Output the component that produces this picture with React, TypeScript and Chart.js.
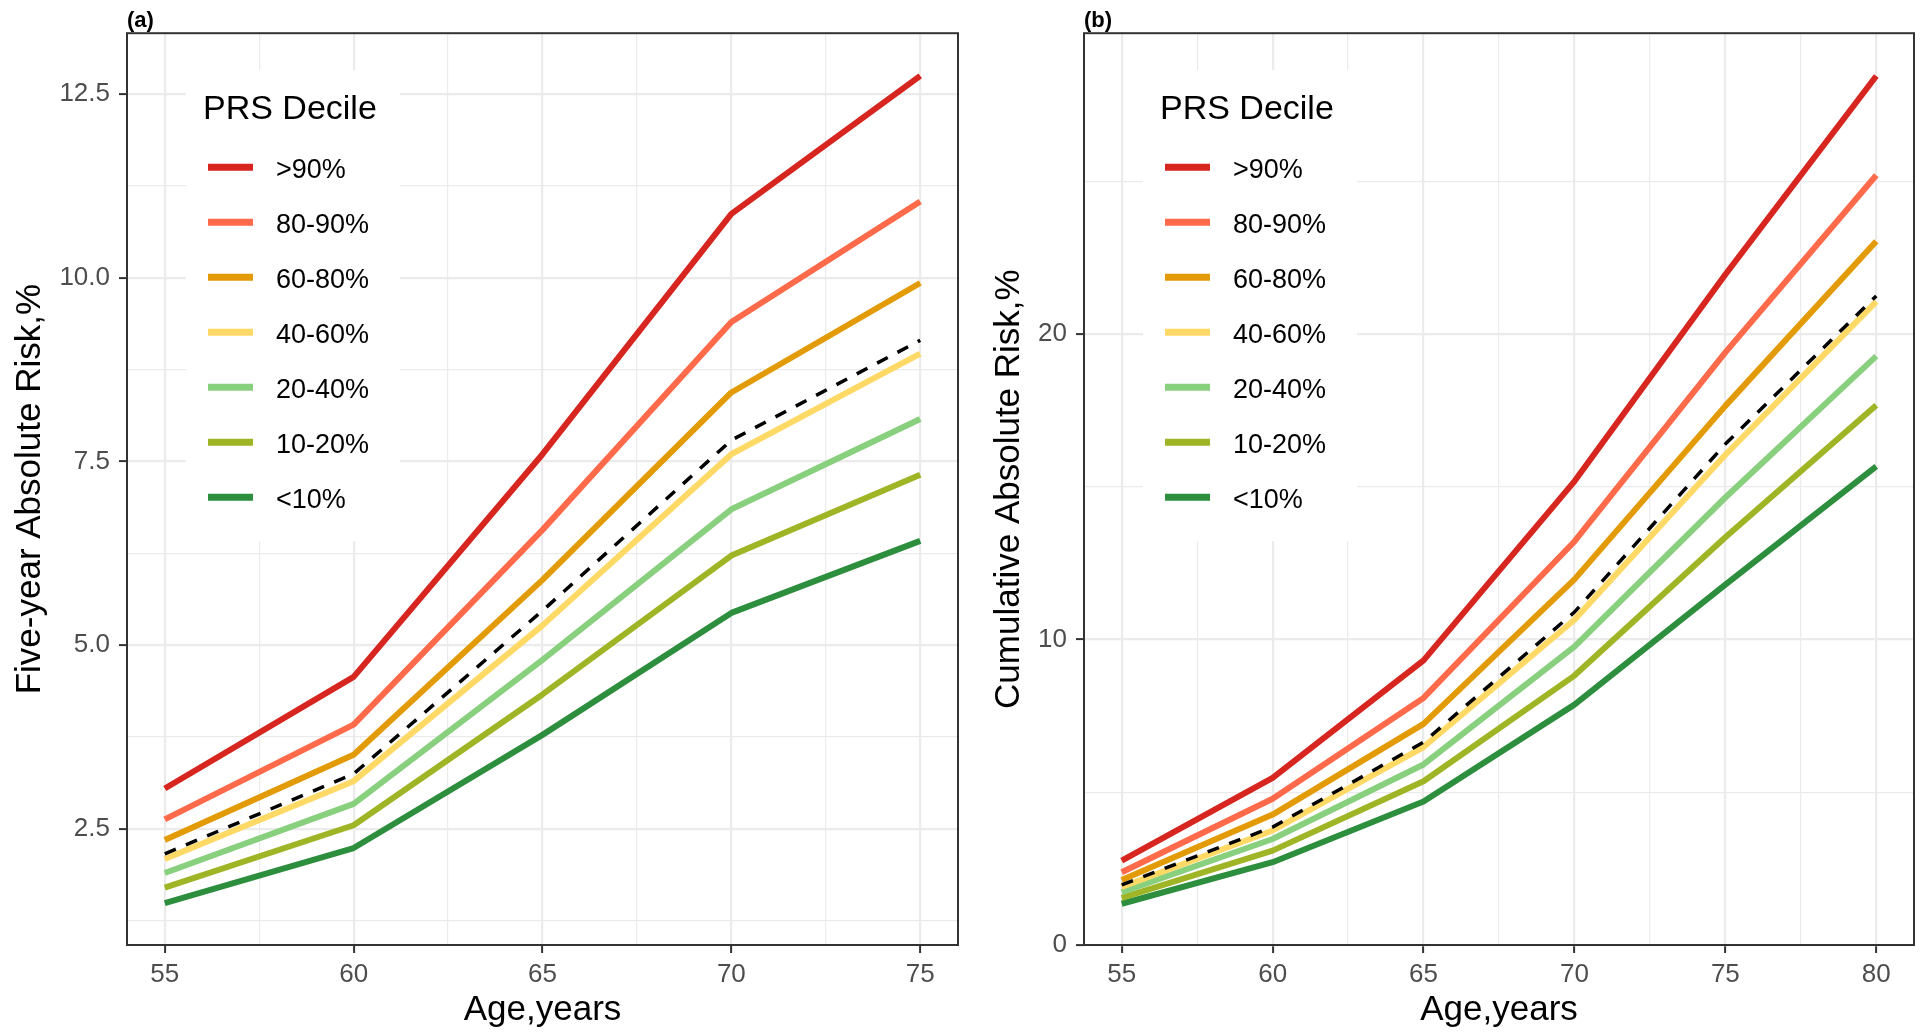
import { useEffect, useRef } from 'react';
import { Chart, registerables } from 'chart.js';

Chart.register(...registerables);

const FONT = '"Liberation Sans", Arial, Helvetica, sans-serif';
Chart.defaults.font.family = FONT;

// ---------- data ----------
const ageFiveYear = [55, 60, 65, 70, 75];
const ageCumulative = [55, 60, 65, 70, 75, 80];

const decileLabels = ['>90%', '80-90%', '60-80%', '40-60%', '20-40%', '10-20%', '<10%'];
const overallLabel = 'Overall';
const legendTitle = 'PRS Decile';

// Panel (a): five-year absolute risk, %
const fiveYearGt90 = [3.05, 4.57, 7.6, 10.87, 12.75];
const fiveYear80to90 = [2.63, 3.92, 6.57, 9.4, 11.04];
const fiveYear60to80 = [2.35, 3.51, 5.89, 8.44, 9.93];
const fiveYear40to60 = [2.09, 3.15, 5.27, 7.6, 8.97];
const fiveYear20to40 = [1.9, 2.84, 4.8, 6.85, 8.08];
const fiveYear10to20 = [1.7, 2.55, 4.33, 6.22, 7.32];
const fiveYearLt10 = [1.49, 2.24, 3.78, 5.44, 6.42];
const fiveYearOverall = [2.16, 3.25, 5.47, 7.79, 9.15];

// Panel (b): cumulative absolute risk, %
const cumGt90 = [2.76, 5.47, 9.32, 15.18, 21.95, 28.45];
const cum80to90 = [2.38, 4.79, 8.09, 13.21, 19.4, 25.2];
const cum60to80 = [2.13, 4.27, 7.24, 11.97, 17.65, 23.04];
const cum40to60 = [1.9, 3.75, 6.48, 10.65, 16.05, 21.06];
const cum20to40 = [1.73, 3.47, 5.91, 9.77, 14.65, 19.28];
const cum10to20 = [1.54, 3.09, 5.36, 8.82, 13.35, 17.67];
const cumLt10 = [1.35, 2.71, 4.7, 7.87, 11.8, 15.67];
const cumOverall = [1.97, 3.86, 6.64, 10.9, 16.4, 21.25];

// tick labels
const xMajorA = [55, 60, 65, 70, 75];
const yMajorA = [2.5, 5.0, 7.5, 10.0, 12.5];
const xMajorB = [55, 60, 65, 70, 75, 80];
const yMajorB = [0, 10, 20];

// ---------- styles ----------
const decileColors = ['#D7261F', '#FF6A4B', '#E39B05', '#FFD966', '#88CF7E', '#9FB526', '#2D8E3D'];
const GRID = '#EBEBEB';
const AXIS_DARK = '#333333';
const TICK_TEXT = '#4D4D4D';

function withMinor(major: number[], min: number, max: number) {
  const step = major[1] - major[0];
  const out: { value: number; isMajor: boolean }[] = [];
  const first = major[0] - step / 2;
  if (first >= min) out.push({ value: first, isMajor: false });
  major.forEach((v, i) => {
    out.push({ value: v, isMajor: true });
    const mid = v + step / 2;
    if (i < major.length - 1 || mid <= max) out.push({ value: mid, isMajor: false });
  });
  return out.filter((t) => t.value >= min && t.value <= max);
}

const legendPlugin = {
  id: 'prsLegend',
  beforeDatasetsDraw(chart: any) {
    const { ctx, chartArea } = chart;
    const L = chartArea.left;
    const T = chartArea.top;
    ctx.save();
    ctx.fillStyle = '#ffffff';
    ctx.fillRect(L + 59, T + 37, 214, 471);
    ctx.fillStyle = '#000000';
    ctx.textAlign = 'left';
    ctx.textBaseline = 'alphabetic';
    ctx.font = `34px ${FONT}`;
    ctx.fillText(legendTitle, L + 76, T + 86);
    const items = chart.data.datasets.filter((d: any) => decileLabels.includes(d.label));
    items.sort((a: any, b: any) => decileLabels.indexOf(a.label) - decileLabels.indexOf(b.label));
    items.forEach((d: any, i: number) => {
      const y = T + 134 + 55 * i;
      ctx.strokeStyle = d.borderColor;
      ctx.lineWidth = 7;
      ctx.lineCap = 'butt';
      ctx.beginPath();
      ctx.moveTo(L + 81, y);
      ctx.lineTo(L + 126, y);
      ctx.stroke();
      ctx.fillStyle = '#000000';
      ctx.font = `27px ${FONT}`;
      ctx.fillText(d.label, L + 149, y + 11);
    });
    ctx.restore();
  },
};

const borderPlugin = {
  id: 'panelBorder',
  afterDraw(chart: any) {
    const { ctx, chartArea } = chart;
    ctx.save();
    ctx.strokeStyle = AXIS_DARK;
    ctx.lineWidth = 2;
    ctx.strokeRect(chartArea.left, chartArea.top, chartArea.right - chartArea.left, chartArea.bottom - chartArea.top);
    ctx.restore();
  },
};

type PanelSpec = {
  label: string;
  ages: number[];
  series: number[][];
  overall: number[];
  xRange: [number, number];
  yRange: [number, number];
  xMajor: number[];
  yMajor: number[];
  yFormat: (v: number) => string;
  yTitle: string;
  yAxisWidth: number;
  yTitlePad: number;
  rightPad: number;
};

function makeConfig(p: PanelSpec): any {
  const xTicks = withMinor(p.xMajor, p.xRange[0], p.xRange[1]);
  const yTicks = withMinor(p.yMajor, p.yRange[0], p.yRange[1]);
  const datasets: any[] = [
    {
      label: overallLabel,
      data: p.ages.map((x, i) => ({ x, y: p.overall[i] })),
      borderColor: '#000000',
      borderWidth: 3.5,
      borderDash: [12, 11],
      pointRadius: 0,
      tension: 0,
      fill: false,
      order: 0,
    },
    ...p.series.map((vals, k) => ({
      label: decileLabels[k],
      data: p.ages.map((x, i) => ({ x, y: vals[i] })),
      borderColor: decileColors[k],
      borderWidth: 6,
      borderJoinStyle: 'round',
      borderCapStyle: 'butt',
      pointRadius: 0,
      tension: 0,
      fill: false,
      order: 1 + k,
    })),
  ];
  const gridOpts = {
    color: (c: any) => GRID,
    lineWidth: (c: any) => (c.tick && c.tick.isMajor ? 2.2 : 1.2),
    drawTicks: true,
    tickLength: 8,
    tickWidth: 2,
    tickColor: (c: any) => (c.tick && c.tick.isMajor ? AXIS_DARK : 'rgba(0,0,0,0)'),
  };
  return {
    type: 'line',
    data: { datasets },
    options: {
      animation: false,
      responsive: false,
      events: [],
      layout: { padding: { left: 0, right: p.rightPad, top: 0, bottom: 0 } },
      plugins: {
        legend: { display: false },
        tooltip: { enabled: false },
        title: {
          display: true,
          text: p.label,
          align: 'start',
          fullSize: false,
          color: '#000000',
          font: { family: FONT, size: 22, weight: 'bold', lineHeight: 1.1 },
          padding: { top: 9, bottom: 0 },
        },
      },
      scales: {
        x: {
          type: 'linear',
          min: p.xRange[0],
          max: p.xRange[1],
          afterBuildTicks: (scale: any) => {
            scale.ticks = xTicks.map((t) => ({ ...t }));
          },
          afterFit: (scale: any) => {
            scale.height = 90;
            scale.paddingLeft = 0;
            scale.paddingRight = 0;
          },
          ticks: {
            autoSkip: false,
            maxRotation: 0,
            padding: 6,
            color: TICK_TEXT,
            font: { size: 26 },
            callback: (v: number) => (p.xMajor.includes(v) ? String(v) : ''),
          },
          grid: gridOpts,
          border: { display: false },
          title: {
            display: true,
            text: 'Age,years',
            color: '#000000',
            font: { size: 35, lineHeight: 1.2 },
            padding: { top: 0, bottom: 4 },
          },
        },
        y: {
          type: 'linear',
          min: p.yRange[0],
          max: p.yRange[1],
          afterBuildTicks: (scale: any) => {
            scale.ticks = yTicks.map((t) => ({ ...t }));
          },
          afterFit: (scale: any) => {
            scale.width = p.yAxisWidth;
            scale.paddingTop = 0;
            scale.paddingBottom = 0;
          },
          ticks: {
            autoSkip: false,
            padding: 9,
            color: TICK_TEXT,
            font: { size: 26 },
            callback: (v: number) => (p.yMajor.includes(v) ? p.yFormat(v) : ''),
          },
          grid: gridOpts,
          border: { display: false },
          title: {
            display: true,
            text: p.yTitle,
            color: '#000000',
            font: { size: 35, lineHeight: 1.2 },
            padding: { top: p.yTitlePad, bottom: 0 },
          },
        },
      },
    },
    plugins: [legendPlugin, borderPlugin],
  };
}

export default function App() {
  const refA = useRef<HTMLCanvasElement>(null);
  const refB = useRef<HTMLCanvasElement>(null);

  useEffect(() => {
    const chartA = new Chart(
      refA.current as HTMLCanvasElement,
      makeConfig({
        label: '(a)',
        ages: ageFiveYear,
        series: [fiveYearGt90, fiveYear80to90, fiveYear60to80, fiveYear40to60, fiveYear20to40, fiveYear10to20, fiveYearLt10],
        overall: fiveYearOverall,
        xRange: [54, 76],
        yRange: [0.92, 13.33],
        xMajor: xMajorA,
        yMajor: yMajorA,
        yFormat: (v) => v.toFixed(1),
        yTitle: 'Five-year Absolute Risk,%',
        yAxisWidth: 127,
        yTitlePad: 9,
        rightPad: 2,
      })
    );
    const chartB = new Chart(
      refB.current as HTMLCanvasElement,
      makeConfig({
        label: '(b)',
        ages: ageCumulative,
        series: [cumGt90, cum80to90, cum60to80, cum40to60, cum20to40, cum10to20, cumLt10],
        overall: cumOverall,
        xRange: [53.75, 81.25],
        yRange: [0, 29.85],
        xMajor: xMajorB,
        yMajor: yMajorB,
        yFormat: (v) => String(v),
        yTitle: 'Cumulative Absolute Risk,%',
        yAxisWidth: 124,
        yTitlePad: 28,
        rightPad: 6,
      })
    );
    return () => {
      chartA.destroy();
      chartB.destroy();
    };
  }, []);

  return (
    <div style={{ position: 'fixed', left: 0, top: 0, width: 1920, height: 1035, background: '#ffffff', overflow: 'hidden' }}>
      <canvas ref={refA} width={960} height={1035} style={{ position: 'absolute', left: 0, top: 0 }} />
      <canvas ref={refB} width={960} height={1035} style={{ position: 'absolute', left: 960, top: 0 }} />
    </div>
  );
}
